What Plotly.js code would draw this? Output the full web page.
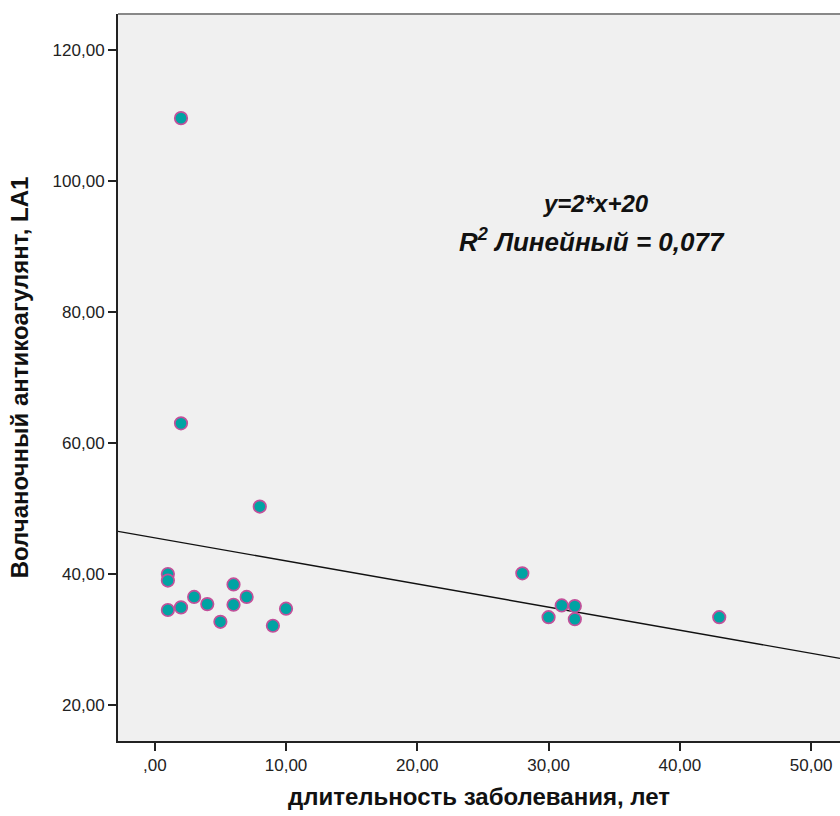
<!DOCTYPE html>
<html>
<head>
<meta charset="utf-8">
<script src="https://cdn.plot.ly/plotly-3.0.1.min.js"></script>
<style>html,body{margin:0;padding:0;background:#fff;}#chart{width:840px;height:816px;}</style>
</head>
<body>
<div id="chart"></div>
<script>
// Data
const durationYears = [1, 1, 1, 2, 2, 2, 3, 4, 5, 6, 6, 7, 8, 9, 10, 28, 30, 31, 32, 32, 43];
const lupusLA1 = [40, 39, 34.5, 109.6, 63, 34.9, 36.5, 35.4, 32.7, 38.4, 35.3, 36.5, 50.3, 32.1, 34.7, 40.1, 33.4, 35.2, 35.1, 33.1, 33.4];
const xTickVals = [0, 10, 20, 30, 40, 50];
const xTickText = [",00", "10,00", "20,00", "30,00", "40,00", "50,00"];
const yTickVals = [20, 40, 60, 80, 100, 120];
const yTickText = ["20,00", "40,00", "60,00", "80,00", "100,00", "120,00"];
const equationText = "y=2*x+20";
const r2Text = "R<sup>2</sup> Линейный = 0,077";

const xRange = [-2.8, 52.2];
const yRange = [14.5, 125.5];

// least squares fit computed from the data
const n = durationYears.length;
const mx = durationYears.reduce((a, b) => a + b, 0) / n;
const my = lupusLA1.reduce((a, b) => a + b, 0) / n;
let sxy = 0, sxx = 0;
for (let i = 0; i < n; i++) {
  sxy += (durationYears[i] - mx) * (lupusLA1[i] - my);
  sxx += (durationYears[i] - mx) ** 2;
}
const slope = sxy / sxx;
const intercept = my - slope * mx;
const fitX = [xRange[0], xRange[1]];
const fitY = fitX.map(v => intercept + slope * v);

const font = "Arial, 'Liberation Sans', sans-serif";

const traces = [
  {
    x: fitX, y: fitY, type: "scatter", mode: "lines",
    line: {color: "#111111", width: 1.4},
    hoverinfo: "skip", showlegend: false
  },
  {
    x: durationYears, y: lupusLA1, type: "scatter", mode: "markers",
    marker: {size: 12.5, color: "#00A3A3", line: {color: "#C2509A", width: 1.7}},
    showlegend: false
  }
];

const layout = {
  width: 840, height: 816,
  margin: {l: 118, r: 0, t: 14, b: 75},
  paper_bgcolor: "#ffffff",
  plot_bgcolor: "#f0f0f0",
  font: {family: font, size: 17, color: "#222"},
  showlegend: false,
  xaxis: {
    range: xRange, tickvals: xTickVals, ticktext: xTickText,
    showgrid: false, zeroline: false,
    showline: true, linecolor: "#222", linewidth: 2,
    ticks: "outside", ticklen: 8, tickwidth: 2, tickcolor: "#222",
    tickfont: {size: 17, color: "#222"},
    title: {text: "<b>длительность заболевания, лет</b>", font: {size: 24, color: "#111"}, standoff: 14}
  },
  yaxis: {
    range: yRange, tickvals: yTickVals, ticktext: yTickText,
    showgrid: false, zeroline: false,
    showline: true, linecolor: "#222", linewidth: 2,
    ticks: "outside", ticklen: 8, tickwidth: 2, tickcolor: "#222",
    tickfont: {size: 17, color: "#222"},
    title: {text: "<b>Волчаночный антикоагулянт, LA1</b>", font: {size: 24, color: "#111"}, standoff: 17}
  },
  shapes: [
    {type: "line", xref: "paper", yref: "paper", x0: 0, x1: 1, y0: 1, y1: 1,
     line: {color: "#888888", width: 2}}
  ],
  annotations: [
    {xref: "paper", yref: "paper", x: 0.662, y: 0.74, text: "<b><i>" + equationText + "</i></b>",
     showarrow: false, font: {size: 24, color: "#111"}, xanchor: "center", yanchor: "middle"},
    {xref: "paper", yref: "paper", x: 0.657, y: 0.689, text: "<b><i>" + r2Text + "</i></b>",
     showarrow: false, font: {size: 26, color: "#111"}, xanchor: "center", yanchor: "middle"}
  ]
};

Plotly.newPlot("chart", traces, layout, {displayModeBar: false, staticPlot: true});
</script>
</body>
</html>
